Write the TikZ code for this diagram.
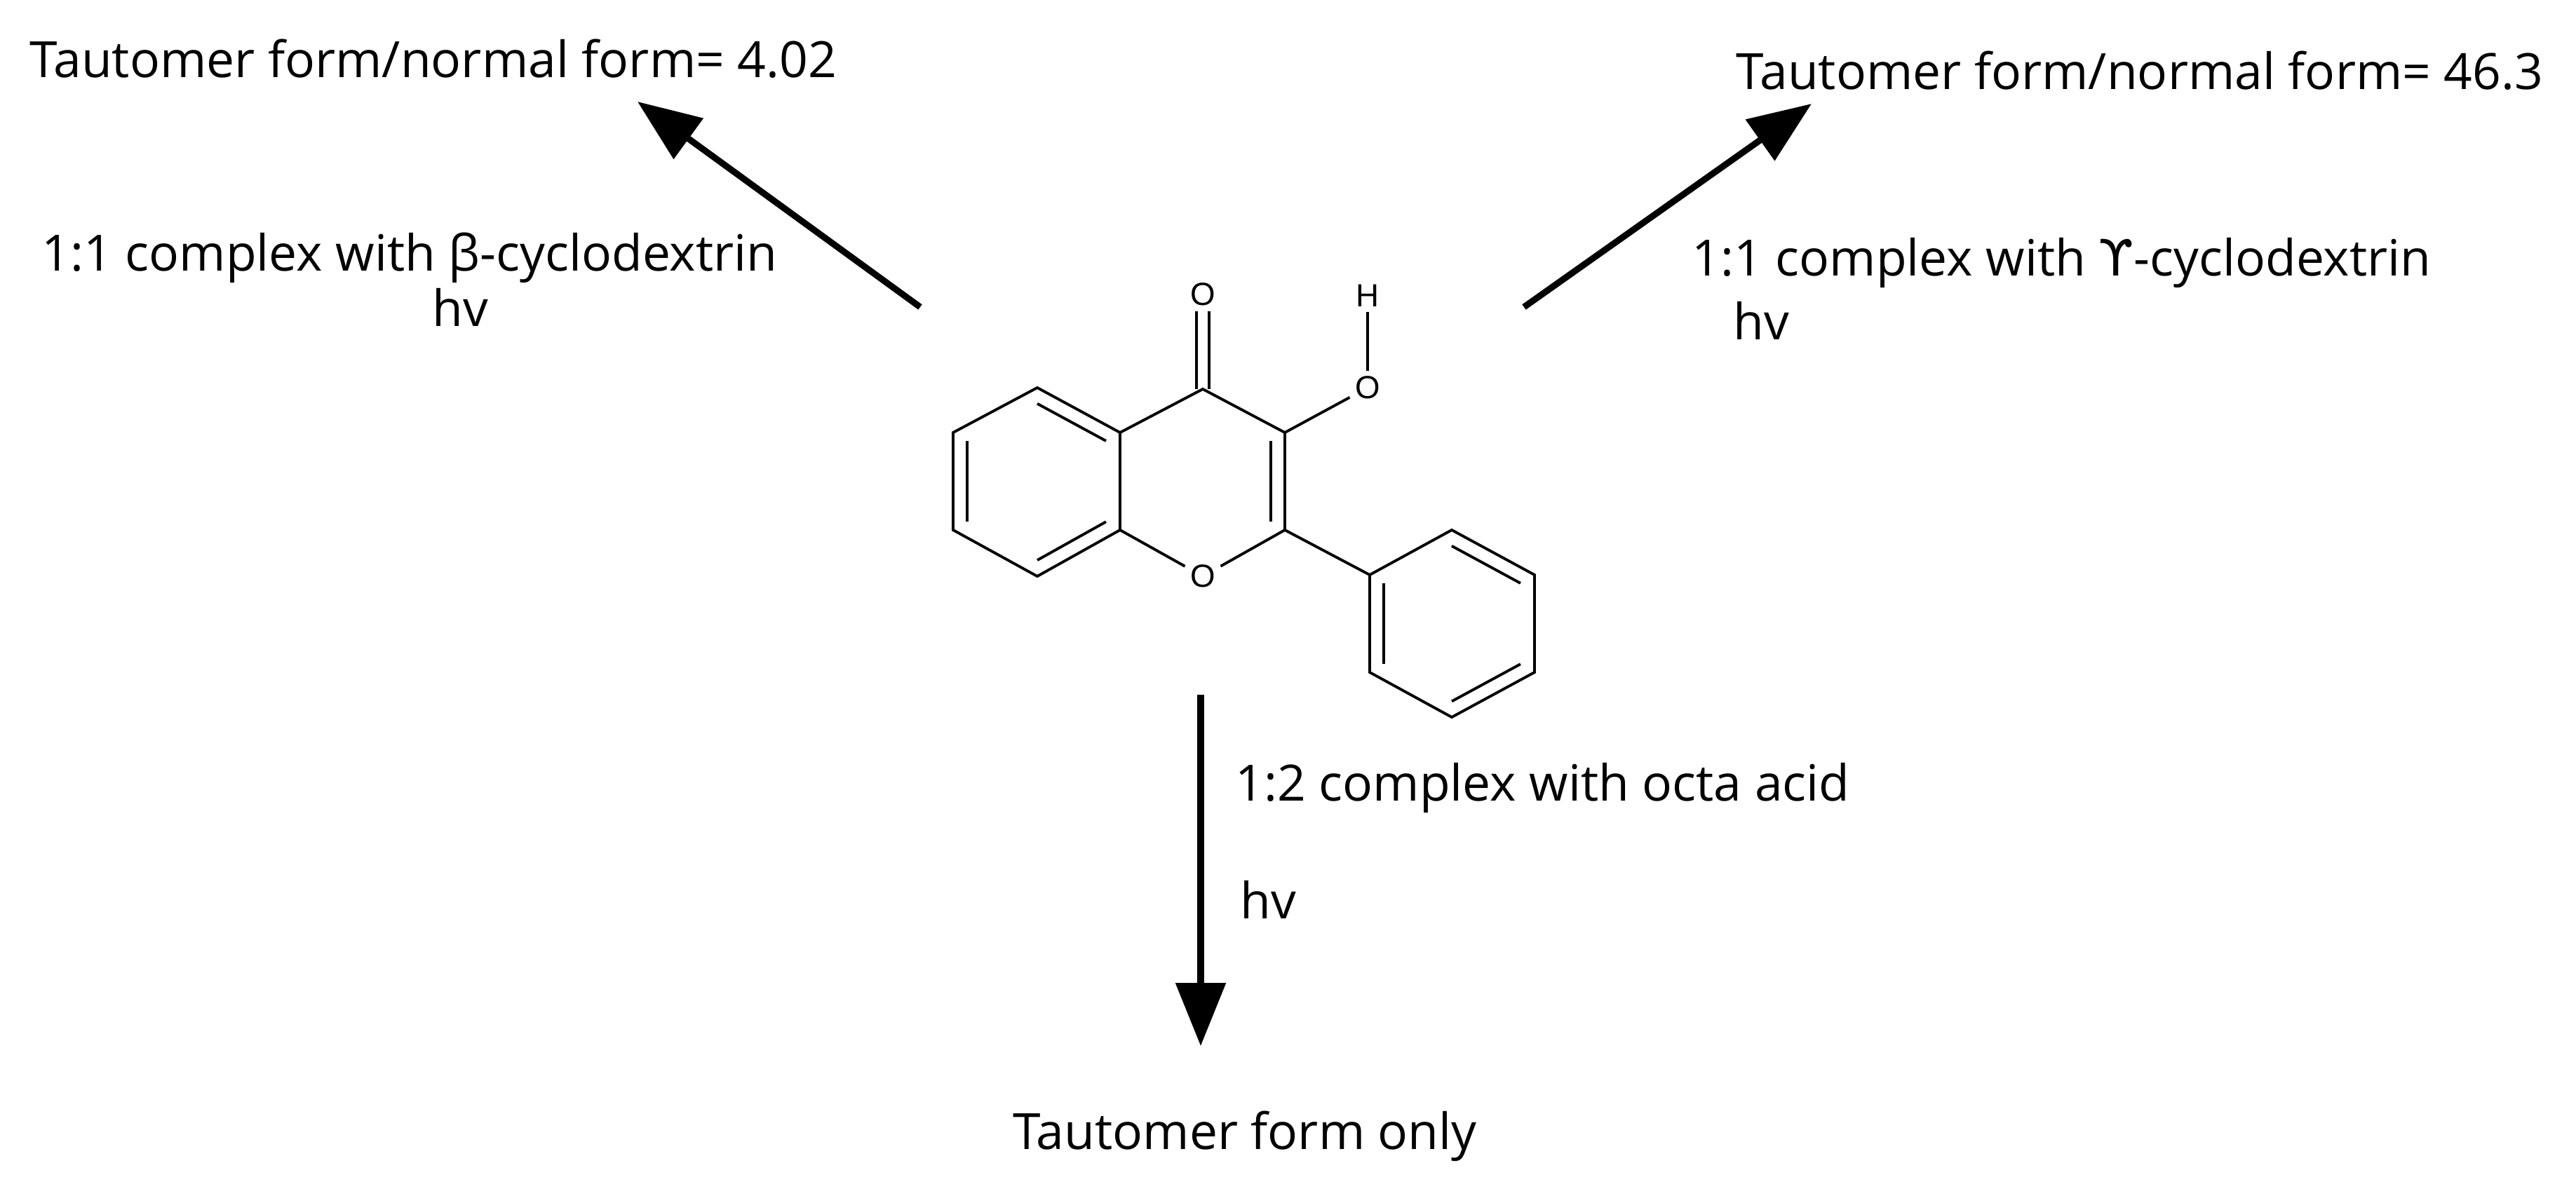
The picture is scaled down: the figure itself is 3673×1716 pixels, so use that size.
\documentclass[tikz,border=0pt]{standalone}
\usepackage{fontspec}
\setmainfont{Open Sans}
\newfontfamily\atomfont{Liberation Sans}
\newfontfamily\symbfont{DejaVu Sans}
\usetikzlibrary{arrows.meta,calc}
\begin{document}
\begin{tikzpicture}[x=0.1mm,y=-0.1mm,
  lbl/.style={font=\fontsize{20.3}{24}\selectfont,inner sep=0pt},
  atom/.style={font=\atomfont\fontsize{13}{15}\selectfont,inner sep=2pt},
  bond/.style={line width=1.1pt},
  bigarrow/.style={line width=2.6pt,-{Triangle[length=9mm,width=7mm]}}]
\useasboundingbox (0,0) rectangle (3673,1716);
% atoms
\coordinate (C4) at (1715,555);
\node[atom] (Ok) at (1715,420) {O};
\coordinate (C4a) at (1597,617);
\coordinate (C8a) at (1597,756);
\node[atom] (O1) at (1715,822) {O};
\coordinate (C2) at (1832,756);
\coordinate (C3) at (1832,617);
\node[atom] (O3) at (1950,553) {O};
\node[atom] (H) at (1950,422) {H};
\coordinate (C5) at (1479,553);
\coordinate (C6) at (1359,617);
\coordinate (C7) at (1359,756);
\coordinate (C8) at (1479,822);
\coordinate (P1) at (1953,820);
\coordinate (P2) at (2070,756);
\coordinate (P3) at (2188,820);
\coordinate (P4) at (2188,959);
\coordinate (P5) at (2070,1023);
\coordinate (P6) at (1953,959);
\coordinate (cb) at (1479,687);
\coordinate (cp) at (1715,687);
\coordinate (cf) at (2070,890);
% bonds
\draw[bond] (C4a)--(C5)--(C6)--(C7)--(C8)--(C8a)--(C4a)--(C4)--(C3)--(C2);
\draw[bond] (C8a)--(O1); \draw[bond] (C2)--(O1);
\draw[bond] (C3)--(O3); \draw[bond] (O3)--(H);
\draw[bond] ($(C4)+(-9,0)$)--($(Ok.south)+(-9,0)$);
\draw[bond] ($(C4)+(9,0)$)--($(Ok.south)+(9,0)$);
\draw[bond] (C2)--(P1)--(P2)--(P3)--(P4)--(P5)--(P6)--(P1);
\draw[bond] ($(C4a)!0.17!(cb)$)--($(C5)!0.17!(cb)$);
\draw[bond] ($(C6)!0.17!(cb)$)--($(C7)!0.17!(cb)$);
\draw[bond] ($(C8)!0.17!(cb)$)--($(C8a)!0.17!(cb)$);
\draw[bond] ($(C3)!0.17!(cp)$)--($(C2)!0.17!(cp)$);
\draw[bond] ($(P2)!0.17!(cf)$)--($(P3)!0.17!(cf)$);
\draw[bond] ($(P1)!0.17!(cf)$)--($(P6)!0.17!(cf)$);
\draw[bond] ($(P4)!0.17!(cf)$)--($(P5)!0.17!(cf)$);
% texts
\node[lbl,anchor=west] (tl) at (42,84) {Tautomer form/normal form= 4.02};
\node[lbl,anchor=west] (tr) at (2475,101) {Tautomer form/normal form= 46.3};
\node[lbl,anchor=west] (bl1) at (59,368) {1:1 complex with β-cyclodextrin};
\node[lbl] (bl2) at (656,438) {hv};
\node[lbl,anchor=west] (br1) at (2412,375) {1:1 complex with {\symbfont ϒ}-cyclodextrin};
\node[lbl] (br2) at (2511,457) {hv};
\node[lbl,anchor=west] (d1) at (1761,1124) {1:2 complex with octa acid};
\node[lbl,anchor=west] (d2) at (1768,1283) {hv};
\node[lbl] (bot) at (1775,1621) {Tautomer form only};
% arrows
\coordinate (a1s) at (1312,438); \coordinate (a1e) at (909,145);
\coordinate (a2s) at (2173,438); \coordinate (a2e) at (2583,148);
\coordinate (a3s) at (1712,991); \coordinate (a3e) at (1712,1492);
\draw[bigarrow] (a1s)--(a1e);
\draw[bigarrow] (a2s)--(a2e);
\draw[bigarrow] (a3s)--(a3e);
\end{tikzpicture}
\end{document}
